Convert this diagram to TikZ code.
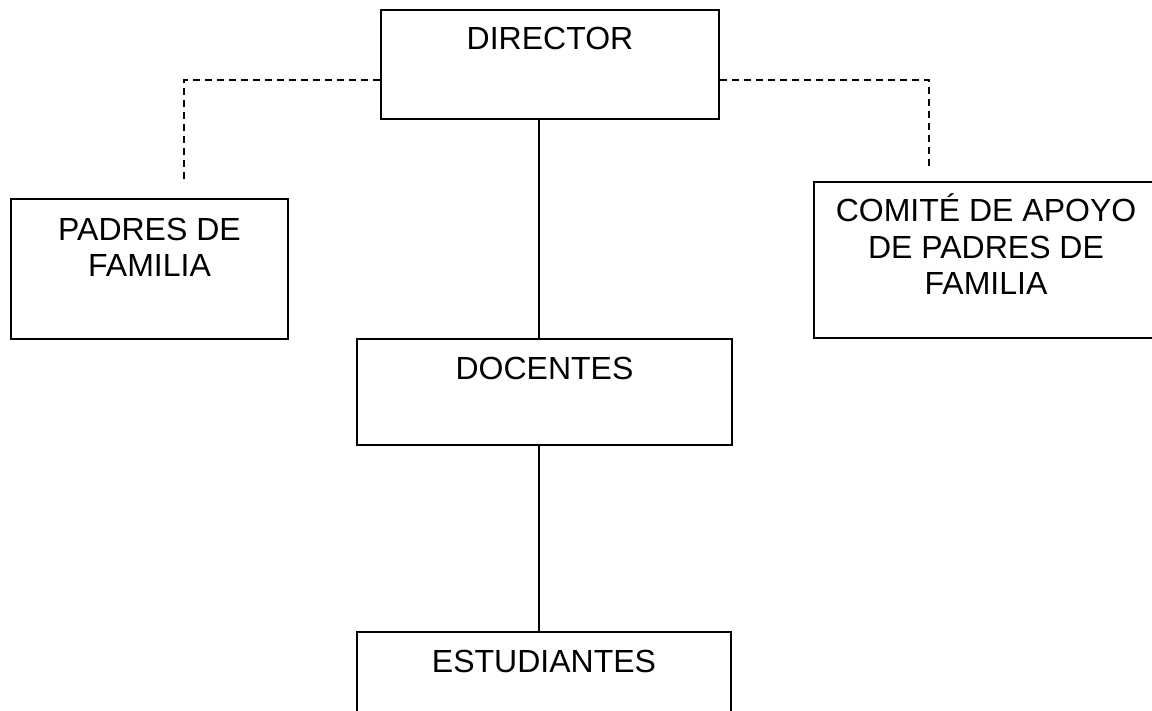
\documentclass[tikz,border=0pt]{standalone}
\usepackage{fontspec}
\setmainfont{Liberation Sans}
\begin{document}
\begin{tikzpicture}[x=1pt,y=1pt,
  box/.style={draw=black, line width=2pt, rectangle, inner sep=0pt},
  lbl/.style={inner sep=0pt, anchor=base, align=center, font=\fontsize{32}{36.5}\selectfont},
  dashline/.style={line width=1.5pt, dash pattern=on 7pt off 5pt},
  solidline/.style={line width=2pt}]
\useasboundingbox (0,0) rectangle (1152,-711);
% boxes
\node[box, minimum width=338pt, minimum height=109pt] (dir) at (550,-64.5) {};
\node[box, minimum width=277pt, minimum height=140pt] (pad) at (149.5,-269) {};
\node[box, minimum width=344pt, minimum height=156pt] (com) at (986,-260) {};
\node[box, minimum width=375pt, minimum height=106pt] (doc) at (544.5,-392) {};
\node[box, minimum width=374pt, minimum height=110pt] (est) at (544,-687) {};
% labels (base = baseline of the last line)
\node[lbl] (tdir) at (550,-50) {DIRECTOR};
\node[lbl] (tpad) at (149.5,-277) {PADRES DE\\FAMILIA};
\node[lbl] (tcom) at (986,-295) {COMITÉ DE APOYO\\DE PADRES DE\\FAMILIA};
\node[lbl] (tdoc) at (544.5,-380) {DOCENTES};
\node[lbl] (test) at (544,-672) {ESTUDIANTES};
% connectors
\coordinate (vx) at (539,0);
\coordinate (dy) at (0,-80);
\coordinate (padend) at (184,-182);
\coordinate (comend) at (929,-168);
\draw[solidline] (dir.south -| vx) -- (doc.north -| vx);
\draw[solidline] (doc.south -| vx) -- (est.north -| vx);
\draw[dashline] (dir.west |- dy) -- (padend |- dy) -- (padend);
\draw[dashline] (dir.east |- dy) -- (comend |- dy) -- (comend);
\end{tikzpicture}
\end{document}
